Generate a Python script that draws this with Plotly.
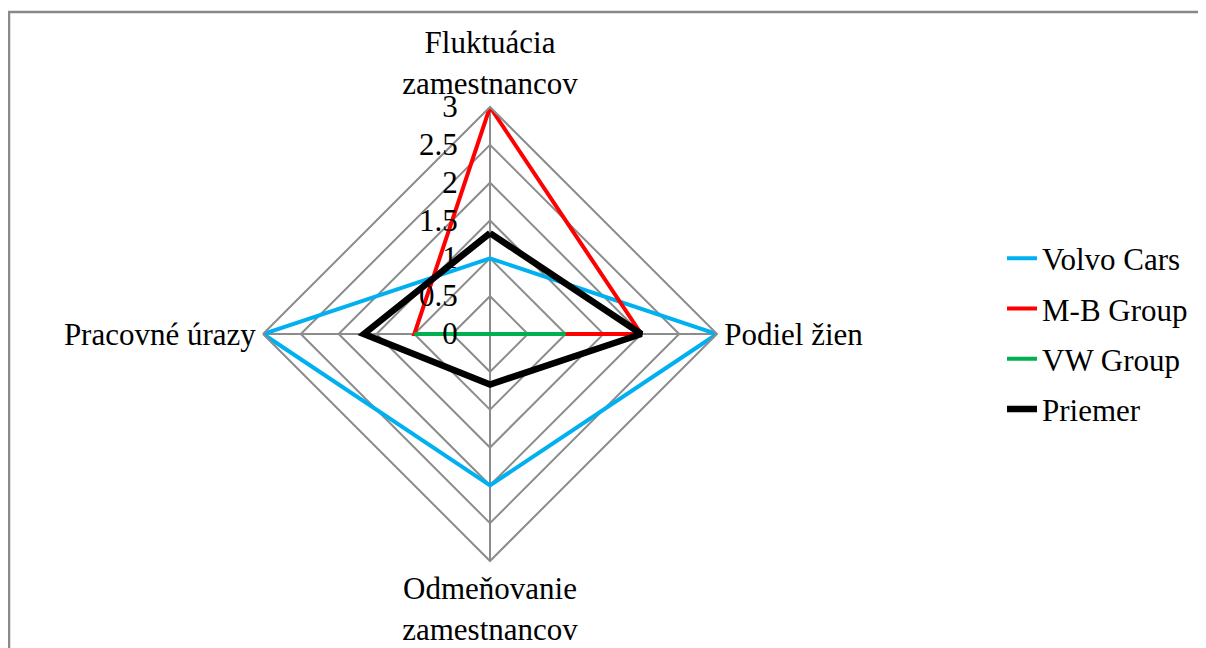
import plotly.graph_objects as go

categories = ["Fluktuácia<br>zamestnancov", "Podiel žien", "Odmeňovanie<br>zamestnancov", "Pracovné úrazy"]
volvo = [1, 3, 2, 3]
mb = [3, 2, 0, 1]
vw = [0, 1, 0, 1]
priemer = [1.333, 2, 0.667, 1.667]
radial_ticks = [0, 0.5, 1, 1.5, 2, 2.5, 3]

series = [
    ("Volvo Cars", volvo, "#00B0F0", 4),
    ("M-B Group", mb, "#FF0000", 4),
    ("VW Group", vw, "#00B050", 4),
    ("Priemer", priemer, "#000000", 6.5),
]

FONT = "'Liberation Serif', 'Times New Roman', 'DejaVu Serif', serif"
FS = 31
GRID = "#8C8C8C"
OFF = 8  # page body margin

fig = go.Figure()
for name, vals, color, w in series:
    fig.add_trace(go.Scatterpolar(
        r=list(vals) + [vals[0]],
        theta=categories + [categories[0]],
        mode="lines",
        name=name,
        legendgroup=name,
        line=dict(color=color, width=w),
    ))

W, H = 1206, 648
cx, cy, R = 490 - OFF, 334 - OFF, 227
fig.update_layout(
    width=W, height=H,
    paper_bgcolor="white", plot_bgcolor="white",
    margin=dict(l=0, r=0, t=0, b=0),
    font=dict(family=FONT, size=FS, color="black"),
    polar=dict(
        domain=dict(x=[(cx - R) / W, (cx + R) / W], y=[(H - cy - R) / H, (H - cy + R) / H]),
        bgcolor="white",
        gridshape="linear",
        angularaxis=dict(
            rotation=90, direction="clockwise",
            showline=True, linecolor=GRID, linewidth=2,
            gridcolor=GRID, gridwidth=2,
            ticks="", tickfont=dict(size=FS, family=FONT, color="black"),
        ),
        radialaxis=dict(
            range=[0, 3], tickvals=radial_ticks,
            ticktext=[("%g" % v) for v in radial_ticks],
            angle=90, tickangle=90, side="counterclockwise",
            showline=False, gridcolor=GRID, gridwidth=2,
            ticks="outside", ticklen=21, tickcolor="rgba(0,0,0,0)",
            tickfont=dict(size=FS, family=FONT, color="black"),
        ),
    ),
    legend=dict(
        x=(1002 - OFF) / W, y=(H - (334 - OFF)) / H, xanchor="left", yanchor="middle",
        font=dict(size=FS, family=FONT, color="black"),
        tracegroupgap=7, bgcolor="rgba(0,0,0,0)",
    ),
    showlegend=True,
    shapes=[dict(type="rect", xref="paper", yref="paper",
                 x0=(9 - OFF) / W, x1=1.02, y0=-0.05, y1=(H - (12 - OFF)) / H,
                 line=dict(color="#898989", width=2.5), fillcolor="rgba(0,0,0,0)",
                 layer="below")],
)

fig.write_html("out.html")
